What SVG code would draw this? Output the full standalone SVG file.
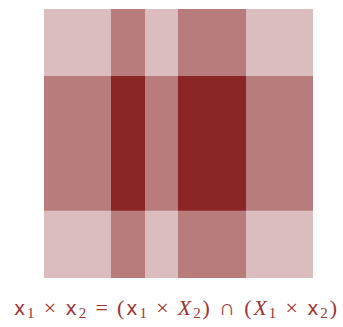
<svg xmlns="http://www.w3.org/2000/svg" width="343" height="327" viewBox="0 0 343 327">
<style>
.l{fill:#dbbdbf}.m{fill:#b77c7b}.d{fill:#8b2626}
.t{fill:#9e3535;font-family:"Liberation Serif",serif;font-size:22px}
.sf{font-family:"DejaVu Sans","Liberation Sans",sans-serif;font-size:19px}
.it{font-style:italic}
.sb{font-size:15px}
</style>
<g id="grid">
<rect class="l" x="44" y="9" width="269" height="269"/>
<rect class="m" x="111" y="9" width="34" height="269"/>
<rect class="m" x="178" y="9" width="68" height="269"/>
<rect class="m" x="44" y="76" width="269" height="134.7"/>
<rect class="d" x="111" y="76" width="34" height="134.7"/>
<rect class="d" x="178" y="76" width="68" height="134.7"/>
</g>
<text class="t" x="14" y="315" textLength="323" lengthAdjust="spacing"><tspan class="sf">x</tspan><tspan class="sb" dy="3">1</tspan><tspan dy="-3"> × </tspan><tspan class="sf">x</tspan><tspan class="sb" dy="3">2</tspan><tspan dy="-3"> = (</tspan><tspan class="sf">x</tspan><tspan class="sb" dy="3">1</tspan><tspan dy="-3"> × </tspan><tspan class="it">X</tspan><tspan class="sb" dy="3">2</tspan><tspan dy="-3">) ∩ (</tspan><tspan class="it">X</tspan><tspan class="sb" dy="3">1</tspan><tspan dy="-3"> × </tspan><tspan class="sf">x</tspan><tspan class="sb" dy="3">2</tspan><tspan dy="-3">)</tspan></text>
</svg>
